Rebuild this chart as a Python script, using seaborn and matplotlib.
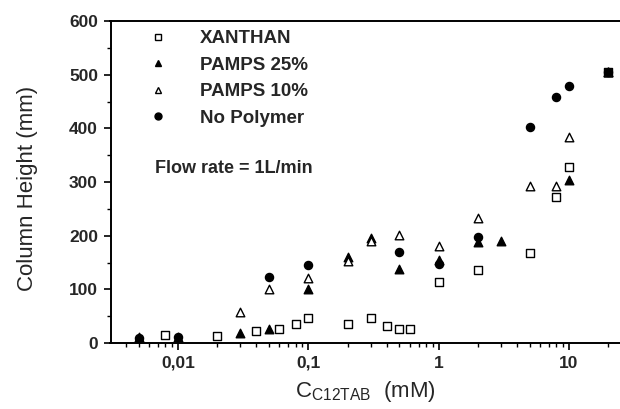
import matplotlib
matplotlib.use("Agg")
import matplotlib.pyplot as plt
import matplotlib.ticker as mticker
from matplotlib.lines import Line2D
import seaborn as sns
import pandas as pd

sns.set_theme(style="white")
plt.rcParams['font.family'] = ['Liberation Sans', 'DejaVu Sans']

# ---- data ----
xan_x = [0.008, 0.02, 0.04, 0.06, 0.08, 0.1, 0.2, 0.3, 0.4, 0.5, 0.6, 1, 2, 5, 8, 10, 20]
xan_y = [15, 13, 22, 27, 35, 46, 35, 46, 32, 26, 26, 113, 136, 167, 272, 328, 505]

p25_x = [0.005, 0.01, 0.03, 0.05, 0.1, 0.2, 0.3, 0.5, 1, 2, 3, 10, 20]
p25_y = [11, 12, 18, 27, 100, 161, 195, 137, 155, 188, 190, 303, 505]

p10_x = [0.03, 0.05, 0.1, 0.2, 0.3, 0.5, 1, 2, 5, 8, 10, 20]
p10_y = [58, 101, 122, 152, 190, 201, 181, 232, 293, 293, 384, 505]

nop_x = [0.005, 0.01, 0.05, 0.1, 0.5, 1, 2, 5, 8, 10, 20]
nop_y = [9, 12, 123, 145, 170, 147, 198, 403, 458, 478, 505]

labels = ["XANTHAN", "PAMPS 25%", "PAMPS 10%", "No Polymer"]
x_ticks = [0.01, 0.1, 1, 10]
x_ticklabels = ["0,01", "0,1", "1", "10"]
y_ticks = [0, 100, 200, 300, 400, 500, 600]

fig = plt.figure(figsize=(6.2, 4.09), dpi=100)
L, R, T, B = 110.5, 620, 21, 343
ax = fig.add_axes([L / 620, 1 - B / 409, (R - L) / 620, (B - T) / 409])

styles = [
    (xan_x, xan_y, 's', 'white', 30),
    (p25_x, p25_y, '^', 'black', 38),
    (p10_x, p10_y, '^', 'white', 38),
    (nop_x, nop_y, 'o', 'black', 34),
]
handles = []
for (xs, ys, mk, fc, sz), lab in zip(styles, labels):
    df = pd.DataFrame({"x": xs, "y": ys})
    sns.scatterplot(data=df, x="x", y="y", ax=ax, marker=mk, s=sz,
                    facecolor=fc, edgecolor='black', linewidth=1.0,
                    zorder=3, legend=False, clip_on=False)
    handles.append(Line2D([], [], linestyle='none', marker=mk, markersize=5,
                          markerfacecolor=fc, markeredgecolor='black',
                          markeredgewidth=1.0, label=lab))

ax.set_xscale('log')
ax.set_xlim(10 ** -2.518, 10 ** 1.391)
ax.set_ylim(0, 600)

ax.set_xticks(x_ticks)
ax.set_xticklabels(x_ticklabels)
ax.xaxis.set_minor_locator(mticker.LogLocator(base=10, subs=range(2, 10), numticks=20))
ax.xaxis.set_minor_formatter(mticker.NullFormatter())
ax.set_yticks(y_ticks)
ax.yaxis.set_minor_locator(mticker.MultipleLocator(50))

for lab in ax.get_xticklabels() + ax.get_yticklabels():
    lab.set_fontweight('bold')
    lab.set_fontsize(12.5)

ax.tick_params(axis='both', which='major', direction='out', length=5, width=1.2,
               color='black', bottom=True, left=True, pad=4)
ax.tick_params(axis='both', which='minor', direction='out', length=3, width=1.0,
               color='black', bottom=True, left=True)

for side in ['left', 'bottom', 'top']:
    ax.spines[side].set_visible(True)
    ax.spines[side].set_color('black')
    ax.spines[side].set_linewidth(1.4)
ax.spines['right'].set_visible(False)

ax.set_ylabel("Column Height (mm)", fontsize=16)
ax.set_xlabel(r"C$_{\mathregular{C12TAB}}$  (mM)", fontsize=16)
ax.yaxis.set_label_coords(-72 / (R - L), 0.48)
ax.xaxis.set_label_coords(0.5, -36 / (B - T))

leg = ax.legend(handles=handles, loc='upper left', frameon=False,
                bbox_to_anchor=((148.6 - L) / (R - L), 1 - (30 - T) / (B - T)),
                prop={'weight': 'bold', 'size': 13.5},
                handlelength=1.0, handletextpad=1.75, labelspacing=0.5,
                borderaxespad=0, borderpad=0)

ax.text((155 - L) / (R - L), 1 - (168 - T) / (B - T), "Flow rate = 1L/min",
        transform=ax.transAxes, fontsize=13, fontweight='bold',
        va='center', ha='left')

fig.savefig("out.png", dpi=100)
